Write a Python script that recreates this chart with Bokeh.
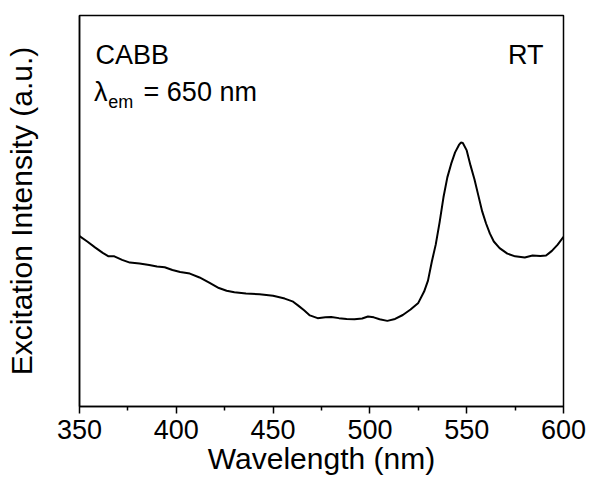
from bokeh.plotting import figure
from bokeh.models import Label, Range1d, FixedTicker
from bokeh.embed import file_html
from bokeh.resources import INLINE

wavelength = [350, 354, 358, 362, 365, 368, 372, 376, 381, 386, 390, 394, 398, 402, 407,
              412, 417, 422, 426, 430, 436, 443, 450, 456, 460, 463, 466, 469, 473, 477,
              480, 484, 488, 492, 496, 499, 502, 505, 509, 513, 517, 521, 525, 528, 530,
              532, 534, 536, 538, 540, 542, 544, 546, 547, 548, 550, 552, 554, 556, 558,
              560, 562, 564, 567, 571, 575, 580, 584, 588, 591, 594, 597, 600]
intensity = [0.436, 0.422, 0.407, 0.393, 0.384, 0.384, 0.375, 0.368, 0.366, 0.362, 0.358,
             0.356, 0.349, 0.344, 0.340, 0.330, 0.317, 0.303, 0.296, 0.292, 0.289, 0.287,
             0.283, 0.276, 0.269, 0.258, 0.246, 0.233, 0.226, 0.228, 0.229, 0.226, 0.224,
             0.223, 0.225, 0.230, 0.228, 0.223, 0.219, 0.224, 0.234, 0.248, 0.265, 0.294,
             0.322, 0.371, 0.414, 0.471, 0.535, 0.586, 0.621, 0.650, 0.669, 0.675, 0.674,
             0.655, 0.616, 0.581, 0.540, 0.499, 0.468, 0.442, 0.422, 0.405, 0.391, 0.384,
             0.381, 0.386, 0.385, 0.386, 0.398, 0.414, 0.434]
major_ticks = [350, 400, 450, 500, 550, 600]
minor_ticks = [375, 425, 475, 525, 575]

FONT = "Liberation Sans"

p = figure(width=590, height=482, output_backend="svg", toolbar_location=None,
           x_range=Range1d(350, 600), y_range=Range1d(0, 1),
           min_border_left=79, min_border_right=27, min_border_top=15, min_border_bottom=76)
p.grid.visible = False
p.outline_line_color = "black"
p.outline_line_width = 1.5
p.background_fill_color = "white"
p.border_fill_color = "white"

p.line(wavelength, intensity, line_color="black", line_width=2)

xa = p.xaxis[0]
xa.ticker = FixedTicker(ticks=major_ticks, minor_ticks=minor_ticks)
xa.axis_label = "Wavelength (nm)"
xa.axis_label_text_font = FONT
xa.axis_label_text_font_size = "30px"
xa.axis_label_text_font_style = "normal"
xa.axis_label_text_color = "black"
xa.axis_label_standoff = 0
xa.major_label_text_font = FONT
xa.major_label_text_font_size = "27px"
xa.major_label_text_color = "black"
xa.major_label_standoff = 6
xa.major_tick_out = 7
xa.major_tick_in = 0
xa.minor_tick_out = 4
xa.minor_tick_in = 0
xa.axis_line_width = 1.5
xa.major_tick_line_width = 1.5
xa.minor_tick_line_width = 1.5

ya = p.yaxis[0]
ya.ticker = FixedTicker(ticks=[])
ya.major_label_text_font_size = "0px"
ya.major_tick_line_color = None
ya.minor_tick_line_color = None
ya.axis_label = "Excitation Intensity (a.u.)"
ya.axis_label_text_font = FONT
ya.axis_label_text_font_size = "30px"
ya.axis_label_text_font_style = "normal"
ya.axis_label_text_color = "black"
ya.axis_label_standoff = 42
ya.axis_line_width = 1.5

def lab(x, y, text, size, align="left"):
    p.add_layout(Label(x=x, y=y, text=text, text_font=FONT, text_font_size=size,
                       text_align=align, text_baseline="alphabetic", text_color="black"))

lab(358.3, 0.900, "CABB", "27px")
lab(589.7, 0.900, "RT", "27px", align="right")
lab(357.5, 0.805, "λ", "27px")
lab(364.9, 0.780, "em", "18px")
lab(383.1, 0.805, "= 650 nm", "27px")

open("out.html", "w").write(file_html(p, INLINE))
